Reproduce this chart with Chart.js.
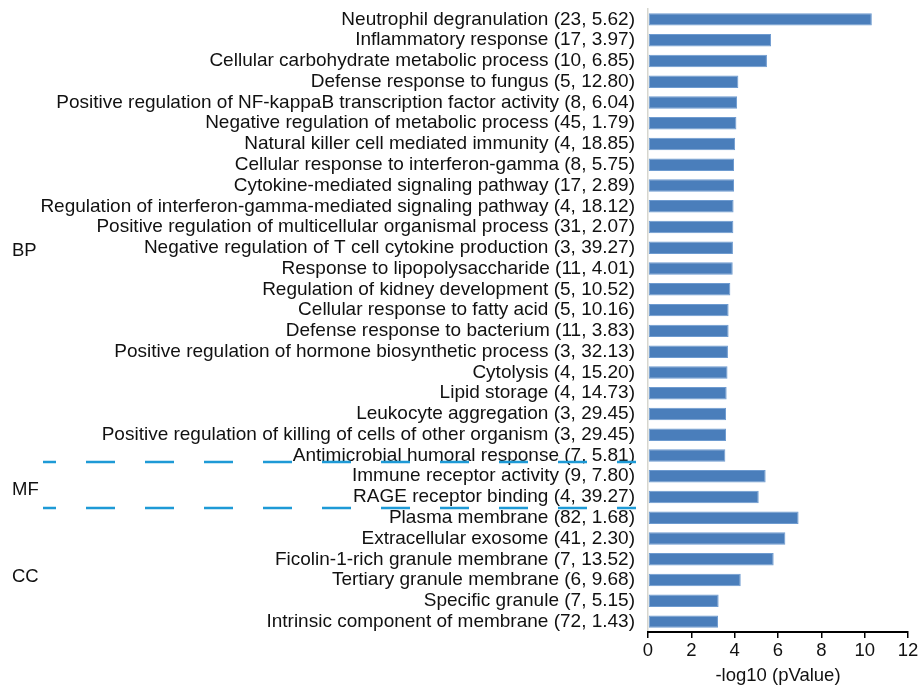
<!DOCTYPE html>
<html>
<head>
<meta charset="utf-8">
<script src="https://cdn.jsdelivr.net/npm/chart.js@4/dist/chart.umd.min.js"></script>
<style>
  body { margin: 0; background: #fff; }
  #wrap { width: 924px; height: 690px; position: relative; }
</style>
</head>
<body>
<div id="wrap"><canvas id="goChart"></canvas></div>
<script>
// GO terms, top to bottom
let terms = [
    'Neutrophil degranulation',
    'Inflammatory response',
    'Cellular carbohydrate metabolic process',
    'Defense response to fungus',
    'Positive regulation of NF-kappaB transcription factor activity',
    'Negative regulation of metabolic process',
    'Natural killer cell mediated immunity',
    'Cellular response to interferon-gamma',
    'Cytokine-mediated signaling pathway',
    'Regulation of interferon-gamma-mediated signaling pathway',
    'Positive regulation of multicellular organismal process',
    'Negative regulation of T cell cytokine production',
    'Response to lipopolysaccharide',
    'Regulation of kidney development',
    'Cellular response to fatty acid',
    'Defense response to bacterium',
    'Positive regulation of hormone biosynthetic process',
    'Cytolysis',
    'Lipid storage',
    'Leukocyte aggregation',
    'Positive regulation of killing of cells of other organism',
    'Antimicrobial humoral response',
    'Immune receptor activity',
    'RAGE receptor binding',
    'Plasma membrane',
    'Extracellular exosome',
    'Ficolin-1-rich granule membrane',
    'Tertiary granule membrane',
    'Specific granule',
    'Intrinsic component of membrane'
];

// gene counts and fold enrichment shown in brackets
let counts = [23, 17, 10, 5, 8, 45, 4, 8, 17, 4, 31, 3, 11, 5, 5, 11, 3, 4, 4, 3, 3, 7, 9, 4, 82, 41, 7, 6, 7, 72];
let folds = ['5.62', '3.97', '6.85', '12.80', '6.04', '1.79', '18.85', '5.75', '2.89', '18.12', '2.07', '39.27',
    '4.01', '10.52', '10.16', '3.83', '32.13', '15.20', '14.73', '29.45', '29.45', '5.81', '7.80', '39.27',
    '1.68', '2.30', '13.52', '9.68', '5.15', '1.43'];

// -log10(pValue)
let pValues = [10.33, 5.68, 5.49, 4.17, 4.11, 4.08, 4.02, 3.97, 3.97, 3.95, 3.94, 3.92, 3.91, 3.80, 3.72, 3.72,
    3.69, 3.67, 3.63, 3.60, 3.60, 3.57, 5.43, 5.11, 6.95, 6.34, 5.80, 4.28, 3.26, 3.23];

// GO category groups and the row where each name sits
let groupNames = ['BP', 'MF', 'CC'];
let groupLabelRow = [11.15, 22.65, 26.85];
// dashed separators between groups (row positions)
let separatorRows = [21.3, 23.55];

let xTicks = [0, 2, 4, 6, 8, 10, 12];

let labels = terms.map((t, i) => `${t} (${counts[i]}, ${folds[i]})`);

const FONT = "Arial, 'Liberation Sans', sans-serif";

// draws the BP / MF / CC names and the dashed separators
const groupPlugin = {
    id: 'groups',
    afterDraw(chart) {
        let ctx = chart.ctx;
        let y = chart.scales.y;
        ctx.save();
        ctx.fillStyle = '#111';
        ctx.font = '18.5px ' + FONT;
        ctx.textAlign = 'left';
        ctx.textBaseline = 'middle';
        groupNames.forEach((name, i) => {
            ctx.fillText(name, 12, y.getPixelForValue(groupLabelRow[i]));
        });

        ctx.strokeStyle = '#1E9AD6';
        ctx.lineWidth = 2.5;
        ctx.setLineDash([29, 30]);
        ctx.lineDashOffset = 16;
        separatorRows.forEach(row => {
            let py = Math.round(y.getPixelForValue(row));
            ctx.beginPath();
            ctx.moveTo(43, py);
            ctx.lineTo(636, py);
            ctx.stroke();
        });
        ctx.restore();
    }
};

let ctx = document.getElementById('goChart').getContext('2d');
new Chart(ctx, {
    type: 'bar',
    data: {
        labels: labels,
        datasets: [{
            data: pValues,
            backgroundColor: '#4A7EBB',
            borderColor: '#6E9BD0',
            borderWidth: 1,
            borderSkipped: false,
            barPercentage: 0.6,
            categoryPercentage: 1
        }]
    },
    options: {
        indexAxis: 'y',
        responsive: true,
        maintainAspectRatio: false,
        animation: false,
        layout: { padding: { top: 9, right: 16, bottom: 0, left: 0 } },
        plugins: {
            legend: { display: false },
            tooltip: { enabled: false }
        },
        scales: {
            y: {
                type: 'category',
                afterFit(scale) {
                    scale.width = 648;
                    scale.paddingTop = 0;
                    scale.paddingBottom = 0;
                },
                grid: { display: false, drawTicks: false },
                border: { display: true, color: '#d6d6cf', width: 1.5 },
                ticks: {
                    autoSkip: false,
                    padding: 13,
                    color: '#111',
                    font: { family: FONT, size: 19 }
                }
            },
            x: {
                min: 0,
                max: 12,
                afterFit(scale) { scale.height = 58; },
                afterBuildTicks(scale) { scale.ticks = xTicks.map(v => ({ value: v })); },
                grid: {
                    drawOnChartArea: false,
                    drawTicks: true,
                    tickLength: 6,
                    color: '#000',
                    lineWidth: 1.5
                },
                border: { display: true, color: '#000', width: 2 },
                ticks: {
                    padding: 2,
                    color: '#111',
                    font: { family: FONT, size: 18.5 }
                },
                title: {
                    display: true,
                    text: '-log10 (pValue)',
                    color: '#111',
                    padding: { top: 0, bottom: 3 },
                    font: { family: FONT, size: 18.5 }
                }
            }
        }
    },
    plugins: [groupPlugin]
});
</script>
</body>
</html>
